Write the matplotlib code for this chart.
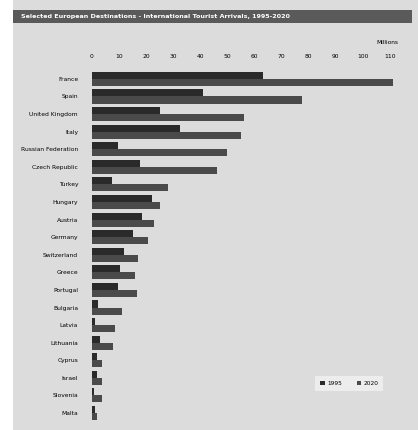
import matplotlib
matplotlib.use("Agg")
import matplotlib.pyplot as plt
import matplotlib.patches as patches
import numpy as np

countries = ["France", "Spain", "United Kingdom", "Italy", "Russian Federation",
             "Czech Republic", "Turkey", "Hungary", "Austria", "Germany",
             "Switzerland", "Greece", "Portugal", "Bulgaria", "Latvia",
             "Lithuania", "Cyprus", "Israel", "Slovenia", "Malta"]
arrivals_1995 = [63, 41, 25, 32.5, 9.6, 17.7, 7.4, 22, 18.5, 15,
                 12, 10.5, 9.6, 2.2, 1.1, 3, 1.8, 1.8, 0.7, 1.1]
arrivals_2020 = [111, 77.5, 56, 55, 50, 46, 28, 25, 23, 20.5,
                 17, 16, 16.6, 11, 8.5, 7.7, 3.7, 3.7, 3.7, 1.8]
ticks = list(range(0, 120, 10))
title = "Selected European Destinations - International Tourist Arrivals, 1995-2020"

bg = "#dcdcdc"
c95 = "#2a2a2a"
c20 = "#4a4a4a"

fig = plt.figure(figsize=(4.18, 4.30), dpi=100)
fig.patch.set_facecolor("white")

# light panel behind everything
fig.add_artist(patches.Rectangle((0.03, 0.0), 0.97, 1.0, transform=fig.transFigure,
                                 facecolor=bg, edgecolor="none", zorder=0))
# dark title strip
fig.add_artist(patches.Rectangle((0.03, 1 - 23 / 430), 0.955, 13 / 430, transform=fig.transFigure,
                                 facecolor="#5a5a5a", edgecolor="none", zorder=1))
fig.text(0.05, 1 - 16.5 / 430, title, color="white", fontsize=4.6, va="center",
         ha="left", fontweight="bold", zorder=2)
fig.text(0.953, 1 - 43 / 430, "Millions", fontsize=4.2, ha="right", va="center")

ax = fig.add_axes([0.22, 0.019, 0.765, 0.818])
ax.set_facecolor("none")

y = np.arange(len(countries))
h = 0.4
ax.barh(y - h / 2, arrivals_1995, height=h, color=c95, label="1995")
ax.barh(y + h / 2, arrivals_2020, height=h, color=c20, label="2020")

ax.set_xlim(0, 118)
ax.set_ylim(len(countries) - 0.5, -0.5)
ax.set_yticks(y)
ax.set_yticklabels(countries, fontsize=4.3)
ax.set_xticks(ticks)
ax.set_xticklabels([str(t) for t in ticks], fontsize=4.3)
ax.xaxis.tick_top()
ax.tick_params(length=0, pad=8)
ax.tick_params(axis="y", pad=10)
for s in ax.spines.values():
    s.set_visible(False)

leg = ax.legend(loc="lower right", bbox_to_anchor=(0.92, 0.08), ncol=2, fontsize=4.2,
                frameon=True, fancybox=False, handlelength=0.8, handleheight=0.8,
                columnspacing=2.5, borderpad=0.8, handletextpad=0.4)
leg.get_frame().set_facecolor("#f2f2f2")
leg.get_frame().set_edgecolor("none")

fig.savefig("out.png", dpi=100, facecolor=fig.get_facecolor())
